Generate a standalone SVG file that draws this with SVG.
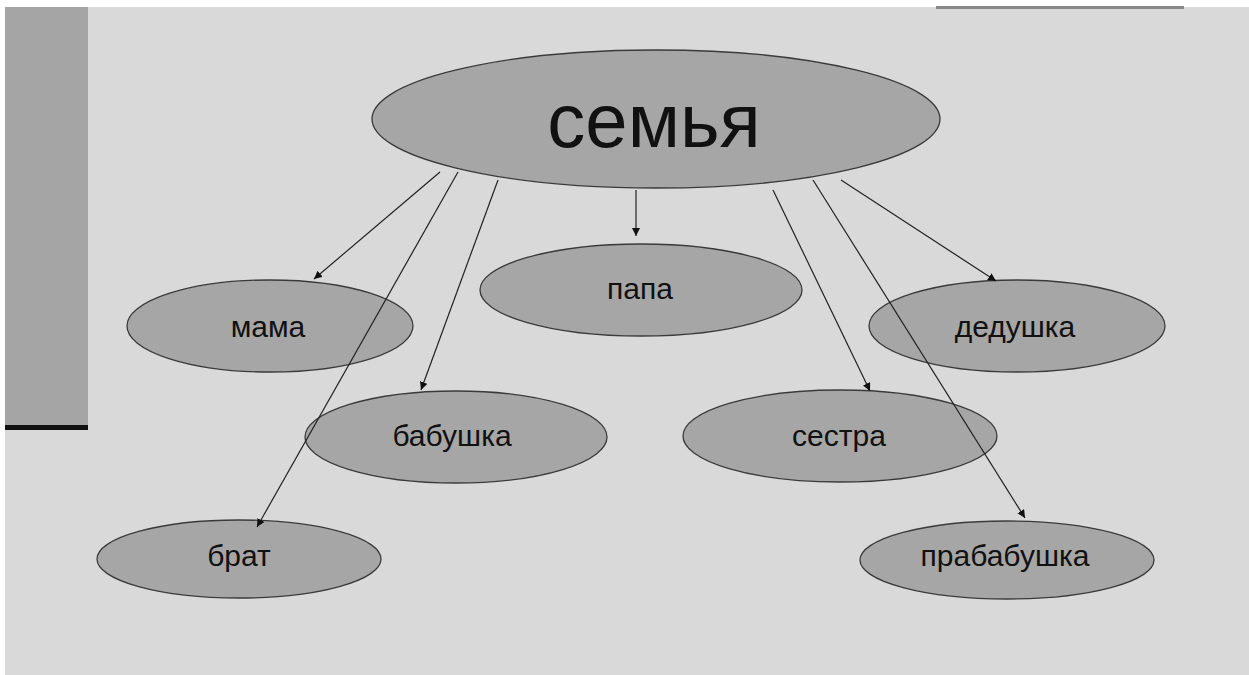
<svg xmlns="http://www.w3.org/2000/svg" width="1249" height="675" viewBox="0 0 1249 675">
<style>
.node ellipse{fill:#a6a6a6;stroke:#3a3a3a;stroke-width:1.3}
.node text{font-family:"Liberation Sans",Arial,sans-serif;font-size:30px;fill:#111;text-anchor:middle}
.edges line{stroke:#222;stroke-width:1.2;marker-end:url(#ah)}
</style>
<defs>
<marker id="ah" viewBox="0 0 10 10" refX="10" refY="5" markerWidth="8" markerHeight="8" markerUnits="userSpaceOnUse" orient="auto">
<path d="M0,0 L10,5 L0,10 z" fill="#111"/>
</marker>
</defs>
<rect x="0" y="0" width="1249" height="675" fill="#ffffff"/>
<rect x="5" y="7" width="1244" height="668" fill="#d9d9d9"/>
<rect x="5" y="7" width="83" height="418" fill="#a5a5a5"/>
<rect x="5" y="425" width="83" height="5" fill="#111"/>
<rect x="936" y="6" width="248" height="3" fill="#888"/>
<g id="n-semya" class="node"><ellipse cx="656" cy="119" rx="284" ry="69"/><text x="654" y="147" style="font-size:76px">семья</text></g>
<g id="n-papa" class="node"><ellipse cx="641" cy="290" rx="161" ry="46"/><text x="640" y="299">папа</text></g>
<g id="n-mama" class="node"><ellipse cx="270" cy="326" rx="143" ry="46"/><text x="268" y="337">мама</text></g>
<g id="n-babushka" class="node"><ellipse cx="456" cy="437" rx="151" ry="46"/><text x="452" y="446">бабушка</text></g>
<g id="n-brat" class="node"><ellipse cx="239" cy="559" rx="142" ry="39"/><text x="239" y="566">брат</text></g>
<g id="n-sestra" class="node"><ellipse cx="840" cy="436" rx="157" ry="46"/><text x="839" y="446">сестра</text></g>
<g id="n-dedushka" class="node"><ellipse cx="1017" cy="326" rx="148" ry="46"/><text x="1015" y="337">дедушка</text></g>
<g id="n-prababushka" class="node"><ellipse cx="1007" cy="560" rx="147" ry="39"/><text x="1005" y="566">прабабушка</text></g>
<g id="edges" class="edges">
<line x1="440" y1="172" x2="314" y2="279"/>
<line x1="458" y1="172" x2="257" y2="527"/>
<line x1="498" y1="180" x2="421" y2="390"/>
<line x1="636" y1="190" x2="636" y2="236"/>
<line x1="773" y1="190" x2="870" y2="391"/>
<line x1="813" y1="180" x2="1025" y2="518"/>
<line x1="841" y1="180" x2="996" y2="281"/>
</g>
</svg>
